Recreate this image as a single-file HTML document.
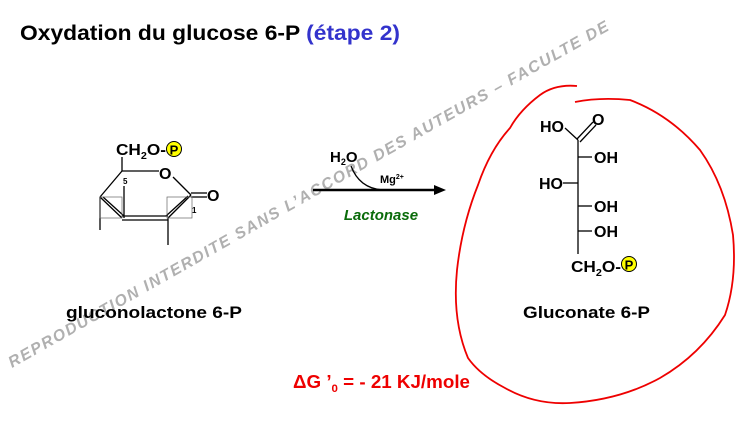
<!DOCTYPE html>
<html><head><meta charset="utf-8"><style>
body{margin:0;width:745px;height:425px;background:#fff;overflow:hidden}
svg{display:block}
text{font-family:"Liberation Sans",sans-serif;font-weight:bold}
</style></head><body>
<svg width="745" height="425" viewBox="0 0 745 425">
<text x="20" y="40" font-size="21" fill="#000" textLength="380" lengthAdjust="spacingAndGlyphs">Oxydation du glucose 6-P <tspan fill="#3333cc">(étape 2)</tspan></text>

<!-- watermark -->
<text x="12" y="368" font-size="16" font-style="italic" fill="#b0b0b0" transform="rotate(-29.5 12 368)" letter-spacing="1.6">REPRODUCTION INTERDITE SANS L’ACCORD DES AUTEURS – FACULTE DE</text>

<!-- lactone -->
<g stroke="#000" stroke-width="1.3" fill="none">
<line x1="122" y1="157" x2="122" y2="171"/>
<line x1="122" y1="171" x2="159" y2="171"/>
<line x1="173" y1="177" x2="191" y2="195"/>
<line x1="191" y1="193" x2="207" y2="193"/>
<line x1="191" y1="197" x2="207" y2="197"/>
<line x1="122" y1="171" x2="100" y2="197"/>
<line x1="100" y1="197" x2="122" y2="218"/>
<line x1="103" y1="197" x2="124" y2="216"/>
<line x1="191" y1="195" x2="168" y2="218"/>
<line x1="188" y1="196" x2="166" y2="216"/>
<line x1="122" y1="216" x2="168" y2="216"/>
<line x1="122" y1="220" x2="168" y2="220"/>
<line x1="168" y1="218" x2="168" y2="245"/>
<line x1="100" y1="197" x2="100" y2="230"/>
<line x1="124" y1="186" x2="124" y2="218"/>
<rect x="100" y="197" width="22" height="21" stroke="#666" stroke-width="0.7"/>
<rect x="167" y="197" width="25" height="21" stroke="#666" stroke-width="0.7"/>
</g>
<text x="116" y="155" font-size="16" textLength="50" lengthAdjust="spacingAndGlyphs">CH<tspan font-size="10" dy="4">2</tspan><tspan dy="-4">O-</tspan></text>
<circle cx="174" cy="149" r="7.5" fill="#ffff00" stroke="#000" stroke-width="1"/>
<text x="174" y="154.5" font-size="13" text-anchor="middle">P</text>
<text x="159" y="179" font-size="16">O</text>
<text x="207" y="201" font-size="16">O</text>
<text x="123" y="184" font-size="8">5</text>
<text x="192" y="213" font-size="8">1</text>
<text x="66" y="318" font-size="17" textLength="176" lengthAdjust="spacingAndGlyphs">gluconolactone 6-P</text>

<!-- arrow -->
<line x1="313" y1="190" x2="436" y2="190" stroke="#000" stroke-width="2.5"/>
<polygon points="446,190 434,185 434,195" fill="#000"/>
<path d="M351 166 Q360 190 386 190" stroke="#000" stroke-width="1.3" fill="none"/>
<text x="330" y="162" font-size="15">H<tspan font-size="9" dy="3">2</tspan><tspan dy="-3">O</tspan></text>
<text x="380" y="183" font-size="11">Mg<tspan font-size="7" dy="-4">2+</tspan></text>
<text x="381" y="220" font-size="15" font-style="italic" fill="#0a6b0a" text-anchor="middle">Lactonase</text>

<!-- gluconate -->
<g stroke="#000" stroke-width="1.3" fill="none">
<line x1="578" y1="140" x2="578" y2="254"/>
<line x1="578" y1="140" x2="565" y2="128"/>
<line x1="577" y1="139" x2="593" y2="122"/>
<line x1="580" y1="142" x2="596" y2="125"/>
<line x1="578" y1="157" x2="592" y2="157"/>
<line x1="563" y1="183" x2="578" y2="183"/>
<line x1="578" y1="206" x2="592" y2="206"/>
<line x1="578" y1="231" x2="592" y2="231"/>
</g>
<text x="540" y="132" font-size="16">HO</text>
<text x="592" y="125" font-size="16">O</text>
<text x="594" y="163" font-size="16">OH</text>
<text x="539" y="189" font-size="16">HO</text>
<text x="594" y="212" font-size="16">OH</text>
<text x="594" y="237" font-size="16">OH</text>
<text x="571" y="272" font-size="16" textLength="50" lengthAdjust="spacingAndGlyphs">CH<tspan font-size="10" dy="4">2</tspan><tspan dy="-4">O-</tspan></text>
<circle cx="629" cy="264" r="7.5" fill="#ffff00" stroke="#000" stroke-width="1"/>
<text x="629" y="269.5" font-size="13" text-anchor="middle">P</text>
<text x="523" y="318" font-size="17" textLength="127" lengthAdjust="spacingAndGlyphs">Gluconate 6-P</text>

<!-- red circle -->
<path d="M577 86 Q555 84 540 95 Q520 110 510 128 Q490 150 478 185 Q462 225 457 270 Q452 320 468 358 Q480 375 505 388 Q535 405 570 403 Q620 400 660 378 Q700 355 725 315 Q737 280 733 235 Q725 185 700 150 Q670 115 630 100 Q600 97 575 102" stroke="#ee0000" stroke-width="1.8" fill="none"/>

<text x="293" y="388" font-size="18" fill="#ee0000" textLength="177" lengthAdjust="spacingAndGlyphs">ΔG ’<tspan font-size="11" dy="4">0</tspan><tspan dy="-4"> = - 21 KJ/mole</tspan></text>
</svg>
</body></html>
